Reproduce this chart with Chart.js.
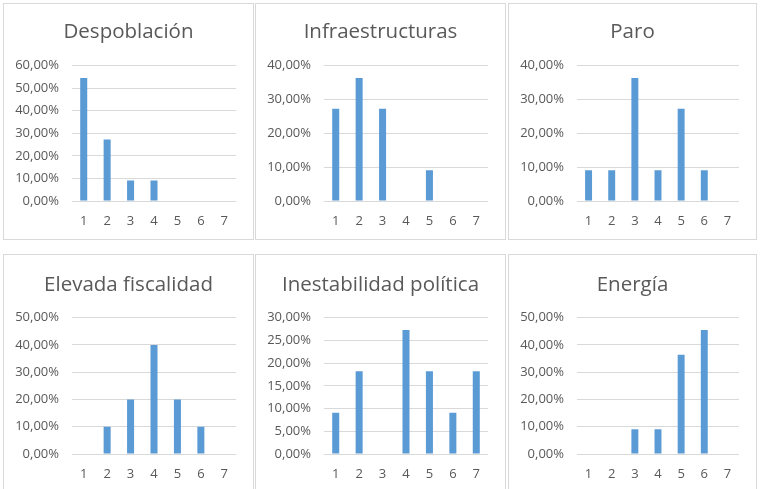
<!DOCTYPE html>
<html>
<head>
<meta charset="utf-8">
<script src="https://cdn.jsdelivr.net/npm/chart.js@4/dist/chart.umd.min.js"></script>
<style>
    body { margin: 0; background: #fff; width: 763px; height: 489px; overflow: hidden; position: relative; }
    .panel { position: absolute; border: 1px solid #d9d9d9; box-sizing: border-box; background: #fff; }
    .panel canvas { position: absolute; left: 0; top: 0; }
</style>
</head>
<body>

<script>
// Data
const categories = ['1', '2', '3', '4', '5', '6', '7'];
const titles = ['Despoblación', 'Infraestructuras', 'Paro', 'Elevada fiscalidad', 'Inestabilidad política', 'Energía'];

const despoblacion = [54.55, 27.27, 9.09, 9.09, 0, 0, 0];
const infraestructuras = [27.27, 36.36, 27.27, 0, 9.09, 0, 0];
const paro = [9.09, 9.09, 36.36, 9.09, 27.27, 9.09, 0];
const fiscalidad = [0, 10, 20, 40, 20, 10, 0];
const inestabilidad = [9.09, 18.18, 0, 27.27, 18.18, 9.09, 18.18];
const energia = [0, 0, 9.09, 9.09, 36.36, 45.45, 0];

const yMax = [60, 40, 40, 50, 30, 50];
const yStep = [10, 10, 10, 10, 5, 10];

const seriesList = [despoblacion, infraestructuras, paro, fiscalidad, inestabilidad, energia];

// Panel boxes
const panels = [
    { left: 3, top: 3, width: 251, height: 237 },
    { left: 255, top: 3, width: 251, height: 237 },
    { left: 508, top: 3, width: 249, height: 237 },
    { left: 3, top: 254, width: 251, height: 245 },
    { left: 255, top: 254, width: 251, height: 245 },
    { left: 508, top: 254, width: 249, height: 245 }
];

const textColor = '#595959';
const gridColor = '#d9d9d9';
const fontFamily = "'Open Sans', sans-serif";

function formatPercent(value) {
    return value.toFixed(2).replace('.', ',') + '%';
}

function createChart(i) {
    const box = panels[i];
    const div = document.createElement('div');
    div.className = 'panel';
    div.style.left = box.left + 'px';
    div.style.top = box.top + 'px';
    div.style.width = box.width + 'px';
    div.style.height = box.height + 'px';
    document.body.appendChild(div);

    const canvas = document.createElement('canvas');
    const w = box.width - 2;
    const h = i < 3 ? 236 : 238;
    canvas.width = w;
    canvas.height = h;
    canvas.style.width = w + 'px';
    canvas.style.height = h + 'px';
    div.appendChild(canvas);

    new Chart(canvas.getContext('2d'), {
        type: 'bar',
        data: {
            labels: categories,
            datasets: [{
                data: seriesList[i],
                backgroundColor: '#5b9bd5',
                barPercentage: 0.3,
                categoryPercentage: 1
            }]
        },
        options: {
            responsive: false,
            animation: false,
            // symmetric padding keeps the title centred on the panel
            layout: { padding: { left: 9, right: 9, top: 0, bottom: 0 } },
            plugins: {
                legend: { display: false },
                tooltip: { enabled: false },
                title: {
                    display: true,
                    text: titles[i],
                    color: textColor,
                    font: { family: fontFamily, size: 20.5, weight: 'normal' },
                    padding: { top: i < 3 ? 16 : 18, bottom: i < 3 ? 21 : 20 }
                }
            },
            scales: {
                x: {
                    grid: { display: false, drawTicks: false },
                    border: { display: false },
                    ticks: { color: textColor, font: { family: fontFamily, size: 13 }, padding: 12 },
                    afterFit: scale => { scale.height = 39; }
                },
                y: {
                    min: 0,
                    max: yMax[i],
                    ticks: {
                        stepSize: yStep[i],
                        color: textColor,
                        font: { family: fontFamily, size: 13 },
                        padding: 13,
                        callback: value => formatPercent(value)
                    },
                    grid: { color: gridColor, drawTicks: false },
                    border: { display: false },
                    afterFit: scale => { scale.width = 59; }
                },
                // empty spacer on the right so the plot ends where the original does
                spacer: {
                    type: 'linear',
                    position: 'right',
                    grid: { display: false, drawTicks: false },
                    border: { display: false },
                    ticks: { display: false },
                    afterFit: scale => { scale.width = 8; }
                }
            }
        }
    });
}

for (let i = 0; i < 6; i++) {
    createChart(i);
}
</script>
</body>
</html>
